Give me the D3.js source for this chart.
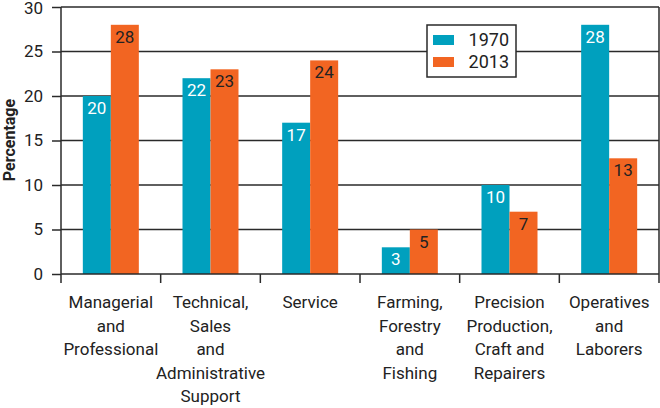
<!DOCTYPE html>
<html><head><meta charset="utf-8">
<script src="https://cdn.jsdelivr.net/npm/d3@7"></script>
<style>
body{margin:0;background:#fff;}
svg{display:block;font-family:Roboto,"DejaVu Sans",sans-serif;}
</style></head>
<body><svg id="c" width="660" height="408"></svg>
<script>
const categories = [
  ["Managerial","and","Professional"],
  ["Technical,","Sales","and","Administrative","Support"],
  ["Service"],
  ["Farming,","Forestry","and","Fishing"],
  ["Precision","Production,","Craft and","Repairers"],
  ["Operatives","and","Laborers"]
];
const series = ["1970","2013"];
const values1970 = [20,22,17,3,10,28];
const values2013 = [28,23,24,5,7,13];
const yTicks = [0,5,10,15,20,25,30];

const colors = {"1970":"#00a0be","2013":"#f26522"};
const labelColors = {"1970":"#ffffff","2013":"#222222"};
const dataBySeries = {"1970":values1970,"2013":values2013};

const svg = d3.select("#c");
const m = {l:61,r:659,t:7,b:274};
const x = d3.scaleBand().domain(d3.range(categories.length)).range([m.l,m.r]);
const xs = d3.scaleBand().domain(series).range([0,56]);
const y = d3.scaleLinear().domain([0,30]).range([m.b,m.t]);
const ink = "#2a2a2a";
const fw = 400;

// gridlines + y ticks
const yAxis = svg.append("g").attr("transform",`translate(${m.l},0)`)
  .call(d3.axisLeft(y).tickValues(yTicks).tickSize(9).tickPadding(9));
yAxis.select(".domain").remove();
yAxis.selectAll(".tick line").attr("stroke",ink).attr("stroke-width",1.5);
yAxis.selectAll(".tick text").attr("font-size",17).attr("font-weight",fw).attr("fill","#222").attr("font-family","Roboto,sans-serif")
  .attr("dy",d=>d===30?"0.4em":"0.32em");
svg.append("g").selectAll("line").data(yTicks.filter(d=>d>0)).join("line")
  .attr("x1",m.l).attr("x2",m.r).attr("y1",d=>y(d)).attr("y2",d=>y(d))
  .attr("stroke",ink).attr("stroke-width",1.5);

// bars
const groups = svg.append("g").selectAll("g").data(categories).join("g")
  .attr("transform",(d,i)=>`translate(${x(i)+x.bandwidth()/2-28},0)`);
series.forEach(s=>{
  groups.append("rect")
    .attr("x",xs(s)).attr("width",xs.bandwidth())
    .attr("y",(d,i)=>y(dataBySeries[s][i]))
    .attr("height",(d,i)=>m.b-y(dataBySeries[s][i]))
    .attr("fill",colors[s]);
  groups.append("text")
    .attr("x",xs(s)+xs.bandwidth()/2)
    .attr("y",(d,i)=>y(dataBySeries[s][i])+18)
    .attr("text-anchor","middle").attr("font-size",17).attr("font-weight",fw)
    .attr("fill",labelColors[s])
    .text((d,i)=>dataBySeries[s][i]);
});

// frame: left axis, bottom axis, right border
svg.append("line").attr("x1",m.l).attr("x2",m.l).attr("y1",m.t).attr("y2",m.b).attr("stroke",ink).attr("stroke-width",1.5);
svg.append("line").attr("x1",m.r).attr("x2",m.r).attr("y1",m.t).attr("y2",m.b).attr("stroke",ink).attr("stroke-width",1.5);
svg.append("line").attr("x1",m.l).attr("x2",m.r).attr("y1",m.b).attr("y2",m.b).attr("stroke",ink).attr("stroke-width",1.5);
// x ticks at band edges
const edges = d3.range(categories.length+1).map(i=> i<categories.length ? x(i) : m.r);
svg.append("g").selectAll("line").data(edges).join("line")
  .attr("x1",d=>d).attr("x2",d=>d).attr("y1",m.b).attr("y2",m.b+9)
  .attr("stroke",ink).attr("stroke-width",1.5);

// x labels
const xl = svg.append("g").selectAll("text").data(categories).join("text")
  .attr("text-anchor","middle").attr("font-size",17).attr("font-weight",fw).attr("fill","#222")
  .attr("x",(d,i)=>x(i)+x.bandwidth()/2).attr("y",308);
xl.selectAll("tspan").data(d=>d).join("tspan")
  .attr("x",function(){return this.parentNode.getAttribute("x");})
  .attr("dy",(d,j)=>j===0?0:23.5).text(d=>d);

// y title
svg.append("text").attr("transform","translate(15,140) rotate(-90)")
  .attr("text-anchor","middle").attr("font-size",16).attr("font-weight","bold").attr("fill","#222")
  .text("Percentage");

// legend
const lg = svg.append("g").attr("transform","translate(427,25)");
lg.append("rect").attr("width",89).attr("height",52).attr("fill","#fff").attr("stroke",ink).attr("stroke-width",1.5);
series.forEach((s,i)=>{
  lg.append("rect").attr("x",6).attr("y",10+i*22).attr("width",21).attr("height",10).attr("fill",colors[s]);
  lg.append("text").attr("x",82).attr("y",21+i*22).attr("text-anchor","end").attr("font-size",18).attr("font-weight",fw).attr("fill","#222").text(s);
});
</script></body></html>
